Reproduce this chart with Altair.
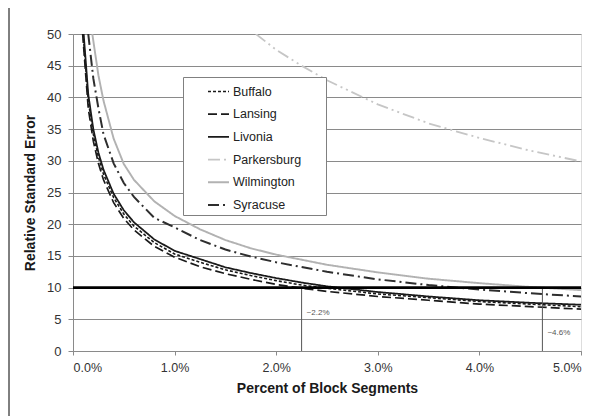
import altair as alt
import pandas as pd

# ---- data ----
series_names = ["Buffalo", "Lansing", "Livonia", "Parkersburg", "Wilmington", "Syracuse"]

buffalo_x = [0.10, 0.15, 0.2, 0.25, 0.3, 0.4, 0.5, 0.6, 0.8, 1.0, 1.25, 1.5, 1.75, 2.0, 2.25, 2.5, 3.0, 3.5, 4.0, 4.5, 5.0]
buffalo_y = [50, 39.5, 34.2, 30.6, 27.9, 24.2, 21.6, 19.7, 17.1, 15.3, 14.0, 12.8, 11.9, 11.1, 10.4, 9.9, 9.0, 8.4, 7.8, 7.4, 7.0]

lansing_x = [0.095, 0.15, 0.2, 0.25, 0.3, 0.4, 0.5, 0.6, 0.8, 1.0, 1.25, 1.5, 1.75, 2.0, 2.25, 2.5, 3.0, 3.5, 4.0, 4.5, 5.0]
lansing_y = [50, 38.3, 33.1, 29.6, 27.0, 23.4, 20.9, 19.1, 16.5, 14.8, 13.3, 12.2, 11.3, 10.5, 9.9, 9.4, 8.6, 8.0, 7.4, 7.0, 6.6]

livonia_x = [0.105, 0.15, 0.2, 0.25, 0.3, 0.4, 0.5, 0.6, 0.8, 1.0, 1.25, 1.5, 1.75, 2.0, 2.25, 2.5, 3.0, 3.5, 4.0, 4.5, 5.0]
livonia_y = [50, 40.5, 35.0, 31.3, 28.6, 24.8, 22.2, 20.3, 17.6, 15.8, 14.5, 13.2, 12.3, 11.5, 10.8, 10.2, 9.3, 8.6, 8.0, 7.6, 7.3]

parkersburg_x = [1.8, 2.0, 2.25, 2.5, 3.0, 3.5, 4.0, 4.5, 5.0]
parkersburg_y = [50, 47.5, 45.0, 42.7, 38.9, 35.9, 33.6, 31.6, 29.9]

wilmington_x = [0.19, 0.25, 0.3, 0.4, 0.5, 0.6, 0.8, 1.0, 1.25, 1.5, 1.75, 2.0, 2.5, 3.0, 3.5, 4.0, 4.5, 5.0]
wilmington_y = [50, 43.5, 39.5, 33.5, 29.5, 27.0, 23.6, 21.3, 19.2, 17.5, 16.2, 15.2, 13.6, 12.4, 11.4, 10.7, 10.1, 9.6]

syracuse_x = [0.15, 0.2, 0.25, 0.3, 0.4, 0.5, 0.6, 0.8, 1.0, 1.25, 1.5, 1.75, 2.0, 2.5, 3.0, 3.5, 4.0, 4.5, 5.0]
syracuse_y = [50, 43.0, 38.3, 34.2, 29.6, 26.5, 24.3, 21.0, 19.5, 17.5, 16.0, 14.9, 14.0, 12.5, 11.3, 10.4, 9.7, 9.1, 8.6]

threshold_y = [10]
threshold_x = [0, 5]
crossing_x = [2.25, 4.62]
crossing_labels = ["~2.2%", "~4.6%"]
crossing_label_y = [6.0, 2.9]

x_ticks = [0, 1, 2, 3, 4, 5]
y_ticks = [0, 5, 10, 15, 20, 25, 30, 35, 40, 45, 50]

# ---- build table ----
xs = [buffalo_x, lansing_x, livonia_x, parkersburg_x, wilmington_x, syracuse_x]
ys = [buffalo_y, lansing_y, livonia_y, parkersburg_y, wilmington_y, syracuse_y]
rows = []
for name, sx, sy in zip(series_names, xs, ys):
    for i, (a, b) in enumerate(zip(sx, sy)):
        rows.append({"series": name, "pct": a, "rse": b, "order": i})
df = pd.DataFrame(rows)

thr_df = pd.DataFrame({"x": [threshold_x[0]], "x2": [threshold_x[1]], "y": threshold_y})
cross_df = pd.DataFrame({"x": crossing_x, "y0": [0, 0], "y1": [10, 10],
                         "label": crossing_labels, "ly": crossing_label_y})

FONT = "Liberation Sans"
colors = ["#1a1a1a", "#1a1a1a", "#1a1a1a", "#c6c6c6", "#b2b2b2", "#2e2e2e"]
dashes = [[3, 2], [9, 4], [1, 0], [12, 4, 2, 4, 2, 4], [1, 0], [11, 4, 2, 4]]
widths = [1.6, 2.0, 1.8, 1.6, 1.6, 1.8]

legend_cfg = dict(
    title=None, orient="none", legendX=110, legendY=43,
    fillColor="white", strokeColor="#808080", padding=3,
    symbolType="stroke", symbolSize=441, symbolOffset=21,
    labelFont=FONT, labelFontSize=12.5, labelColor="#222222", labelOffset=3,
    rowPadding=4.7, labelLimit=300,
    labelExpr="datum.label + '\u2002\u2002\u2002\u2009\u200b'",
)

x_scale = alt.Scale(domain=[0, 5], nice=False)
y_scale = alt.Scale(domain=[0, 50], nice=False)

x_axis = alt.Axis(
    values=x_ticks, labelExpr="format(datum.value, '.1f') + '%'",
    title="Percent of Block Segments", grid=False,
    domainColor="#8a8a8a", tickColor="#8a8a8a", tickSize=4,
    labelFont=FONT, labelFontSize=12.5, labelColor="#333333", labelPadding=6,
    titleFont=FONT, titleFontSize=14, titleFontWeight="bold", titleColor="#1a1a1a",
    titlePadding=8,
)
y_axis = alt.Axis(
    values=y_ticks, title="Relative Standard Error", grid=True,
    gridColor="#8a8a8a", gridWidth=1, labelOverlap=False,
    domainColor="#8a8a8a", tickColor="#8a8a8a", tickSize=5,
    labelFont=FONT, labelFontSize=13, labelColor="#333333", labelPadding=7,
    titleFont=FONT, titleFontSize=14, titleFontWeight="bold", titleColor="#1a1a1a",
    titlePadding=9,
)

lines = alt.Chart(df).mark_line(clip=True).encode(
    x=alt.X("pct:Q", scale=x_scale, axis=x_axis),
    y=alt.Y("rse:Q", scale=y_scale, axis=y_axis),
    color=alt.Color("series:N", scale=alt.Scale(domain=series_names, range=colors),
                    sort=series_names, legend=alt.Legend(**legend_cfg)),
    strokeDash=alt.StrokeDash("series:N", scale=alt.Scale(domain=series_names, range=dashes),
                              sort=series_names, legend=alt.Legend(**legend_cfg)),
    strokeWidth=alt.StrokeWidth("series:N", scale=alt.Scale(domain=series_names, range=widths),
                                sort=series_names, legend=alt.Legend(**legend_cfg)),
    order="order:Q",
)

thr = alt.Chart(thr_df).mark_rule(color="#000000", strokeWidth=2.6).encode(
    x=alt.X("x:Q", scale=x_scale, axis=x_axis), x2="x2:Q",
    y=alt.Y("y:Q", scale=y_scale, axis=y_axis)
)

vlines = alt.Chart(cross_df).mark_rule(color="#555555", strokeWidth=1).encode(
    x=alt.X("x:Q", scale=x_scale, axis=x_axis),
    y=alt.Y("y0:Q", scale=y_scale, axis=y_axis), y2="y1:Q"
)

vtext = alt.Chart(cross_df).mark_text(
    align="left", baseline="middle", dx=5, font=FONT, fontSize=8, color="#555555"
).encode(
    x=alt.X("x:Q", scale=x_scale, axis=x_axis),
    y=alt.Y("ly:Q", scale=y_scale, axis=y_axis), text="label:N"
)

frame = alt.Chart(thr_df).mark_rule(color="#000000", strokeWidth=1, clip=False).encode(
    x=alt.value(-64), y=alt.value(-30), y2=alt.value(400)
)

chart = alt.layer(lines, frame, vlines, thr, vtext).properties(
    width=508, height=317,
    autosize=alt.AutoSizeParams(type="none"),
    padding={"left": 65, "top": 26, "right": 18, "bottom": 65},
).configure_view(strokeWidth=0).configure(background="white")

chart.save("out.html", embed_options={"renderer": "svg", "actions": False})
